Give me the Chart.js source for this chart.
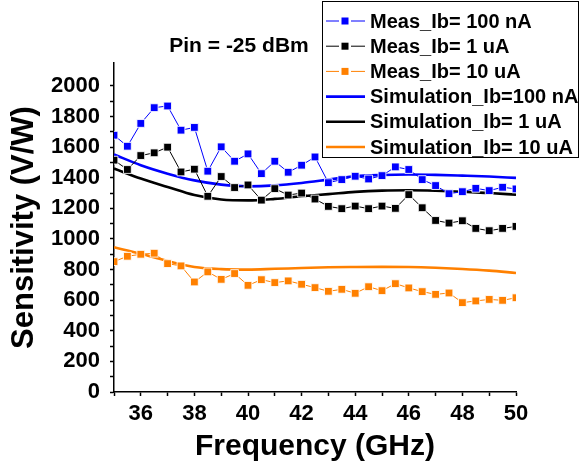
<!DOCTYPE html>
<html>
<head>
<meta charset="utf-8">
<script src="https://cdn.jsdelivr.net/npm/chart.js@4.4.0/dist/chart.umd.min.js"></script>
<style>
html,body{margin:0;padding:0;background:#fff;}
#wrap{width:581px;height:468px;}
</style>
</head>
<body>
<div id="wrap"><canvas id="c" width="581" height="468"></canvas></div>
<script>
// Measured frequencies (GHz)
const measFreq = [35,35.5,36,36.5,37,37.5,38,38.5,39,39.5,40,40.5,41,41.5,42,42.5,43,43.5,44,44.5,45,45.5,46,46.5,47,47.5,48,48.5,49,49.5,50];
const measIb100nA = [1678,1606,1755,1858,1869,1711,1729,1443,1602,1508,1556,1427,1508,1436,1482,1536,1368,1388,1410,1392,1414,1471,1454,1388,1349,1296,1309,1331,1316,1338,1327];
const measIb1uA = [1515,1454,1545,1563,1600,1438,1456,1279,1408,1336,1353,1254,1329,1287,1300,1261,1213,1198,1215,1198,1215,1200,1290,1204,1121,1104,1119,1069,1054,1069,1082];
const measIb10uA = [852,887,900,907,839,824,719,785,736,774,697,734,715,726,704,682,658,671,645,688,662,708,680,656,638,647,584,595,605,599,616];

// Simulation frequencies (GHz)
const simFreq = [35,36,37,38,39,40,41,42,43,44,45,46,47,48,49,50];
const simIb100nA = [1552,1482,1427,1383,1355,1344,1350,1366,1388,1410,1418,1421,1419,1414,1408,1399];
const simIb1uA = [1460,1395,1340,1287,1258,1252,1262,1279,1293,1308,1316,1318,1315,1309,1300,1290];
const simIb10uA = [946,903,856,817,803,800,805,810,815,817,818,817,812,804,793,778];

const seriesLabels = ['Meas_Ib= 100 nA','Meas_Ib= 1 uA','Meas_Ib= 10 uA','Simulation_Ib=100 nA','Simulation_Ib= 1 uA','Simulation_Ib= 10 uA'];
const annotationText = 'Pin = -25 dBm';
const xTitle = 'Frequency (GHz)';
const yTitle = 'Sensitivity (V/W)';

const BLUE = '#0000FF', BLACK = '#000000', ORANGE = '#FF8000';
const FONT = "'Liberation Sans', Arial, sans-serif";

function pts(xs, ys){ return xs.map((x,i)=>({x:x, y:ys[i]})); }

function measDs(label, data, color){
  return {label, data: pts(measFreq, data), borderColor: color, backgroundColor: color,
    borderWidth: 1, pointStyle: 'rect', pointRadius: 5.5, pointHoverRadius: 5.5,
    pointBackgroundColor: color, pointBorderColor: 'rgba(255,255,255,0.85)', pointBorderWidth: 1,
    tension: 0, isMeas: true};
}
function simDs(label, data, color){
  return {label, data: pts(simFreq, data), borderColor: color, backgroundColor: color,
    borderWidth: 2.6, pointRadius: 0, pointHoverRadius: 0, cubicInterpolationMode: 'monotone', isMeas: false};
}

const legendPlugin = {
  id: 'customLegend',
  afterDraw(chart){
    const ctx = chart.ctx;
    ctx.save();
    // annotation
    ctx.font = 'bold 21px ' + FONT;
    ctx.fillStyle = '#000';
    ctx.textAlign = 'center';
    ctx.textBaseline = 'middle';
    ctx.fillText(annotationText, 239, 46);
    // legend box
    ctx.fillStyle = '#fff';
    ctx.fillRect(322.5, 1.5, 256, 156);
    ctx.strokeStyle = '#000';
    ctx.lineWidth = 1;
    ctx.strokeRect(322.5, 1.5, 256, 156);
    ctx.font = 'bold 20px ' + FONT;
    ctx.textAlign = 'left';
    chart.data.datasets.forEach((ds, i) => {
      const y = 21 + i * 25.2;
      ctx.strokeStyle = ds.borderColor;
      ctx.lineWidth = ds.borderWidth;
      ctx.beginPath();
      ctx.moveTo(326, y);
      ctx.lineTo(365, y);
      ctx.stroke();
      if (ds.isMeas) {
        ctx.fillStyle = '#fff';
        ctx.fillRect(339, y - 5, 12, 10);
        ctx.fillStyle = ds.borderColor;
        ctx.fillRect(341.5, y - 3.5, 7, 7);
      }
      ctx.fillStyle = '#000';
      ctx.fillText(ds.label, 370, y + 1);
    });
    ctx.restore();
  }
};

new Chart(document.getElementById('c'), {
  type: 'line',
  data: {
    datasets: [
      measDs(seriesLabels[0], measIb100nA, BLUE),
      measDs(seriesLabels[1], measIb1uA, BLACK),
      measDs(seriesLabels[2], measIb10uA, ORANGE),
      simDs(seriesLabels[3], simIb100nA, BLUE),
      simDs(seriesLabels[4], simIb1uA, BLACK),
      simDs(seriesLabels[5], simIb10uA, ORANGE)
    ]
  },
  options: {
    responsive: false,
    animation: false,
    events: [],
    layout: {padding: {top: 63, right: 65, left: 0, bottom: 0}},
    plugins: {legend: {display: false}, tooltip: {enabled: false}},
    scales: {
      x: {
        type: 'linear', min: 35, max: 50,
        afterFit(s){ s.height = 76; },
        border: {color: '#000', width: 1.5},
        grid: {drawOnChartArea: false, drawTicks: true, tickLength: 4, tickColor: '#000', tickWidth: 1.5},
        ticks: {stepSize: 1, autoSkip: false, maxRotation: 0, padding: 5, color: '#000',
          font: {family: FONT, size: 22, weight: 'bold'},
          callback: v => (v % 2 === 0 ? String(v) : '')},
        title: {display: true, text: xTitle, color: '#000', padding: {top: 0, bottom: 6},
          font: {family: FONT, size: 30, weight: 'bold', lineHeight: 1}}
      },
      y: {
        type: 'linear', min: 0, max: 2150,
        afterFit(s){ s.width = 114; },
        afterBuildTicks(s){ s.ticks = s.ticks.filter(t => t.value % 100 === 0); },
        border: {color: '#000', width: 1.5},
        grid: {drawOnChartArea: false, drawTicks: true, tickLength: 4, tickColor: '#000', tickWidth: 1.5},
        ticks: {stepSize: 100, autoSkip: false, padding: 10, color: '#000',
          font: {family: FONT, size: 22, weight: 'bold'},
          callback: v => (v % 200 === 0 ? String(v) : '')},
        title: {display: true, text: yTitle, color: '#000', padding: {top: 9, bottom: 0},
          font: {family: FONT, size: 31, weight: 'bold', lineHeight: 1}}
      }
    }
  },
  plugins: [legendPlugin]
});
</script>
</body>
</html>
